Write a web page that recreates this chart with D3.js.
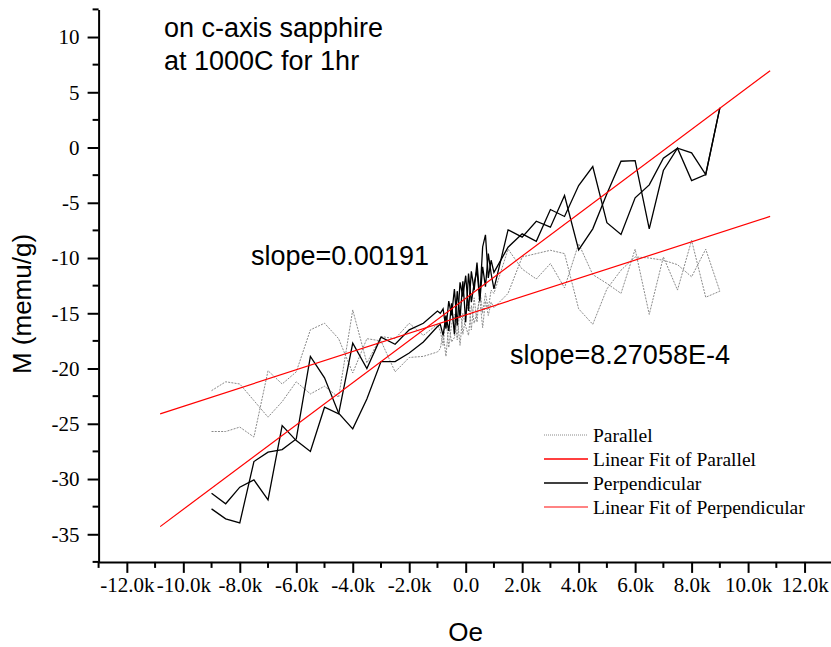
<!DOCTYPE html>
<html>
<head>
<meta charset="utf-8">
<script src="https://cdn.jsdelivr.net/npm/d3@7/dist/d3.min.js"></script>
<style>
  html, body { margin: 0; padding: 0; background: #fff; }
  svg { display: block; }
</style>
</head>
<body>
<svg id="chart" width="831" height="647"></svg>
<script>
// Applied field (Oe), shared by every sweep branch
const fieldOe = [
  -9000, -8500, -8000, -7500, -7000, -6500, -6000, -5500, -5000, -4500,
  -4000, -3500, -3000, -2500, -2000, -1500, -1000,
  -900, -800, -700, -600, -500, -400, -300, -200, -100, 0,
  100, 200, 300, 400, 500, 600, 700, 800, 900,
  1000, 1500, 2000, 2500, 3000, 3500, 4000, 4500, 5000, 5500,
  6000, 6500, 7000, 7500, 8000, 8500, 9000
];

// Magnetization (memu/g), field parallel to the c-axis, two sweep branches
const parallelBranchA = [
  -22.0, -21.2, -21.4, -22.9, -24.4, -23.0, -21.2, -22.3, -21.6, -22.6,
  -14.7, -19.5, -17.1, -17.3, -15.9, -17.0, -16.0,
  -16.6, -17.9, -15.2, -18.1, -16.0, -15.1, -17.4, -14.3, -16.9, -15.3,
  -13.8, -16.5, -13.6, -15.8, -12.8, -15.0, -13.2, -14.6, -12.9,
  -13.2, -9.2, -11.0, -11.9, -10.5, -12.7, -8.7, -11.5, -12.3, -13.2,
  -9.2, -15.1, -9.9, -12.9, -8.4, -13.55, -13.0
];
const parallelBranchB = [
  -25.7, -25.7, -25.3, -26.2, -20.2, -21.4, -20.3, -16.5, -15.9, -17.3,
  -20.4, -17.3, -17.5, -20.3, -19.0, -18.9, -18.5,
  -18.2, -16.8, -18.9, -16.1, -17.6, -17.2, -15.4, -17.9, -15.0, -16.2,
  -17.0, -14.3, -15.9, -14.9, -13.7, -16.3, -13.9, -15.2, -14.0,
  -14.5, -13.2, -9.9, -9.6, -9.3, -9.6, -14.6, -16.0, -12.8, -11.1,
  -9.9, -10.0, -10.2, -10.6, -11.7, -9.2, -13.0
];

// Magnetization (memu/g), field perpendicular, two sweep branches
const perpendicularBranchA = [
  -31.28, -32.24, -30.74, -30.08, -31.88, -25.16, -26.52, -27.51, -23.5, -24.1,
  -17.7, -20.0, -17.16, -17.8, -16.5, -15.9, -14.8,
  -15.0, -14.6, -16.4, -13.9, -15.2, -12.8, -16.1, -12.2, -13.5, -11.6,
  -14.8, -11.2, -12.9, -10.4, -13.6, -9.0, -7.9, -11.8, -10.2,
  -11.3, -9.02, -7.81, -8.48, -5.61, -6.24, -3.44, -1.72, -6.8, -7.87,
  -4.55, -3.38, -0.97, -0.06, -0.48, -2.44, 3.59
];
const perpendicularBranchB = [
  -32.7, -33.6, -33.97, -28.42, -27.57, -27.33, -26.37, -18.91, -20.84, -24.04,
  -25.46, -22.75, -19.37, -19.37, -18.6, -17.6, -16.2,
  -16.0, -17.0, -15.2, -16.6, -14.1, -16.9, -13.0, -15.4, -12.1, -15.8,
  -11.4, -14.0, -12.3, -11.1, -13.9, -10.8, -12.6, -9.6, -11.4,
  -12.8, -7.45, -8.11, -6.67, -7.21, -4.34, -9.26, -7.36, -4.19, -1.24,
  -1.18, -7.36, -2.08, -0.06, -2.99, -2.44, 3.59
];

// Linear fits: slope (memu/g per Oe), intercept (memu/g), field span (Oe)
const fitNames = ["Parallel", "Perpendicular"];
const fitSlopes = [8.27058e-4, 0.00191];
const fitIntercepts = [-15.15, -13.64];
const fitSpan = [-10820, 10780];

// Axis ticks
const xMajorTicks = [-12000, -10000, -8000, -6000, -4000, -2000, 0, 2000, 4000, 6000, 8000, 10000, 12000];
const xTickLabels = ["-12.0k", "-10.0k", "-8.0k", "-6.0k", "-4.0k", "-2.0k", "0.0", "2.0k", "4.0k", "6.0k", "8.0k", "10.0k", "12.0k"];
const xMinorTicks = [-13000, -11000, -9000, -7000, -5000, -3000, -1000, 1000, 3000, 5000, 7000, 9000, 11000, 13000];
const yMajorTicks = [-35, -30, -25, -20, -15, -10, -5, 0, 5, 10];
const yTickLabels = ["-35", "-30", "-25", "-20", "-15", "-10", "-5", "0", "5", "10"];
const yMinorTicks = [-37.5, -32.5, -27.5, -22.5, -17.5, -12.5, -7.5, -2.5, 2.5, 7.5, 12.5];

const legendLabels = ["Parallel", "Linear Fit of Parallel", "Perpendicular", "Linear Fit of Perpendicular"];
const slopeLabels = ["slope=8.27058E-4", "slope=0.00191"];

const svg = d3.select("#chart");

const x = d3.scaleLinear().domain([-13000, 13000]).range([98.6, 832.8]);
const y = d3.scaleLinear().domain([-37.5, 12.5]).range([561.9, 9.4]);

const serif = "'Liberation Serif', 'Times New Roman', serif";
const sans = "'Liberation Sans', Arial, sans-serif";

// Data sweeps
const line = d3.line().x(d => x(d[0])).y(d => y(d[1]));
const pairs = arr => fieldOe.map((h, i) => [h, arr[i]]);

const dataG = svg.append("g");
[parallelBranchA, parallelBranchB].forEach(b => {
  dataG.append("path")
    .attr("d", line(pairs(b)))
    .attr("fill", "none")
    .attr("stroke", "#8a8a8a")
    .attr("stroke-width", 1)
    .attr("stroke-dasharray", "2,1.2");
});
[perpendicularBranchA, perpendicularBranchB].forEach(b => {
  dataG.append("path")
    .attr("d", line(pairs(b)))
    .attr("fill", "none")
    .attr("stroke", "#000")
    .attr("stroke-width", 1.3)
    .attr("stroke-linejoin", "miter");
});

// Fit lines
fitNames.forEach((name, i) => {
  const pts = fitSpan.map(h => [h, fitIntercepts[i] + fitSlopes[i] * h]);
  dataG.append("path")
    .attr("d", line(pts))
    .attr("fill", "none")
    .attr("stroke", "#ff0000")
    .attr("stroke-width", 1.2);
});

// Axes
const xAxis = svg.append("g")
  .attr("transform", `translate(0,${y(-37.5)})`)
  .call(d3.axisBottom(x).tickValues(xMajorTicks)
    .tickFormat((d, i) => xTickLabels[i]).tickSize(11).tickSizeOuter(0).tickPadding(4));
xAxis.append("g").selectAll("line").data(xMinorTicks).join("line")
  .attr("x1", d => x(d)).attr("x2", d => x(d))
  .attr("y1", 0).attr("y2", 6)
  .attr("stroke", "#000").attr("stroke-width", 2);

const yAxis = svg.append("g")
  .attr("transform", `translate(${x(-13000)},0)`)
  .call(d3.axisLeft(y).tickValues(yMajorTicks)
    .tickFormat((d, i) => yTickLabels[i]).tickSize(11).tickSizeOuter(0).tickPadding(8));
yAxis.append("g").selectAll("line").data(yMinorTicks).join("line")
  .attr("y1", d => y(d)).attr("y2", d => y(d))
  .attr("x1", 0).attr("x2", -6)
  .attr("stroke", "#000").attr("stroke-width", 2);

[xAxis, yAxis].forEach(a => {
  a.select(".domain").attr("stroke", "#000").attr("stroke-width", 2);
  a.selectAll(".tick line").attr("stroke", "#000").attr("stroke-width", 2);
  a.selectAll(".tick text")
    .attr("fill", "#000")
    .style("font-family", serif)
    .style("font-size", "21px");
});

// Axis titles
svg.append("text")
  .attr("x", x(0)).attr("y", 641)
  .attr("text-anchor", "middle")
  .style("font-family", sans).style("font-size", "26px")
  .text("Oe");
svg.append("text")
  .attr("transform", `translate(31,${304}) rotate(-90)`)
  .attr("text-anchor", "middle")
  .style("font-family", sans).style("font-size", "26px")
  .text("M (memu/g)");

// Sample annotation
const note = svg.append("text")
  .style("font-family", sans).style("font-size", "27px");
note.append("tspan").attr("x", 164).attr("y", 37).text("on c-axis sapphire");
note.append("tspan").attr("x", 164).attr("y", 70).text("at 1000C for 1hr");

// Slope labels
svg.append("text").attr("x", 251).attr("y", 265)
  .style("font-family", sans).style("font-size", "27px")
  .text(slopeLabels[1]);
svg.append("text").attr("x", 510).attr("y", 364)
  .style("font-family", sans).style("font-size", "27px")
  .text(slopeLabels[0]);

// Legend
const legendStyles = [
  { stroke: "#8a8a8a", width: 1, dash: "1,1" },
  { stroke: "#ff0000", width: 1.3, dash: null },
  { stroke: "#000000", width: 1.3, dash: null },
  { stroke: "#ff5a5a", width: 1.3, dash: null }
];
const legend = svg.append("g");
legendLabels.forEach((label, i) => {
  const cy = 435 + i * 24;
  legend.append("line")
    .attr("x1", 544).attr("x2", 588).attr("y1", cy).attr("y2", cy)
    .attr("stroke", legendStyles[i].stroke)
    .attr("stroke-width", legendStyles[i].width)
    .attr("stroke-dasharray", legendStyles[i].dash);
  legend.append("text")
    .attr("x", 593).attr("y", cy + 6.5)
    .style("font-family", serif).style("font-size", "19.5px")
    .text(label);
});
</script>
</body>
</html>
